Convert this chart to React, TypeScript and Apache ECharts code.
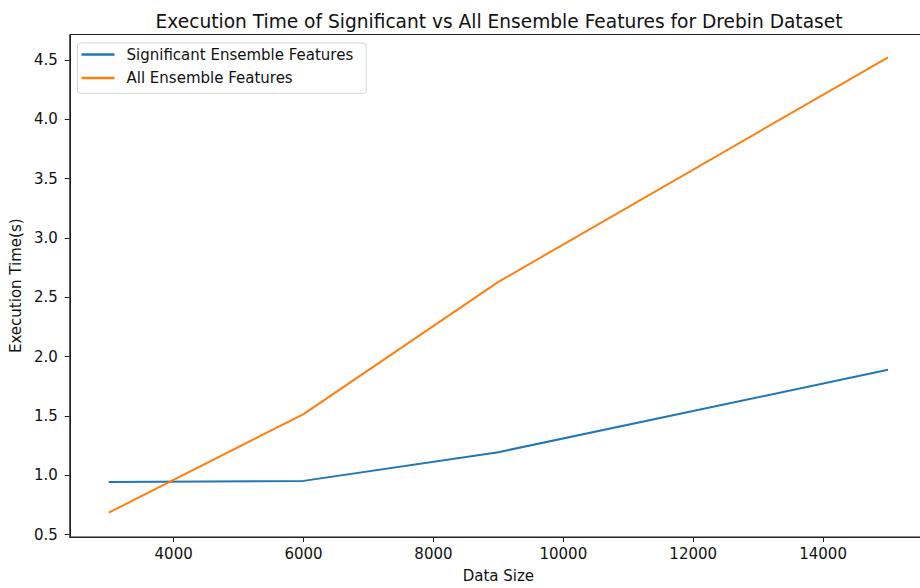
import React, { useEffect, useRef } from "react";
import * as echarts from "echarts";

const dataSizes = [3000, 6000, 9000, 15000];
const significantTimes = [0.943, 0.953, 1.195, 1.889];
const allTimes = [0.685, 1.515, 2.63, 4.523];
const xTicks = [4000, 6000, 8000, 10000, 12000, 14000];
const yTicks = [0.5, 1.0, 1.5, 2.0, 2.5, 3.0, 3.5, 4.0, 4.5];
const seriesNames = ["Significant Ensemble Features", "All Ensemble Features"];
const titleText = "Execution Time of Significant vs All Ensemble Features for Drebin Dataset";

const FONT = "DejaVu Sans";
const FS = 15;

export default function App() {
  const ref = useRef<HTMLDivElement>(null);
  useEffect(() => {
    if (!ref.current) return;
    const chart = echarts.init(ref.current, null, { renderer: "svg" });
    chart.setOption({
      animation: false,
      backgroundColor: "#fff",
      title: {
        text: titleText,
        left: 494,
        textAlign: "center",
        top: 7,
        textStyle: { fontFamily: FONT, fontSize: 18.6, fontWeight: "normal", color: "#111" },
      },
      legend: {
        orient: "vertical",
        left: 77.5,
        top: 43,
        padding: [4, 13, 8, 4],
        itemGap: 8.4,
        itemWidth: 33,
        itemHeight: 2.5,
        backgroundColor: "#fff",
        borderColor: "#d6d6d6",
        borderWidth: 1,
        borderRadius: 3,
        textStyle: { fontFamily: FONT, fontSize: FS, color: "#111", padding: [0, 0, 0, 7] },
        data: seriesNames.map((n) => ({ name: n, icon: "rect" })),
      },
      grid: {
        left: 69,
        top: 34.5,
        width: 858,
        height: 503,
        show: true,
        borderColor: "#222",
        borderWidth: 1,
        backgroundColor: "transparent",
        containLabel: false,
      },
      xAxis: {
        type: "value",
        min: 2400,
        max: 15600,
        name: "Data Size",
        nameLocation: "middle",
        nameGap: 31,
        nameTextStyle: { fontFamily: FONT, fontSize: FS, color: "#111" },
        axisLine: { show: true, lineStyle: { color: "#222", width: 1 } },
        axisTick: { show: true, length: 5, inside: false, customValues: xTicks, lineStyle: { color: "#222" } },
        axisLabel: {
          customValues: xTicks,
          margin: 9,
          fontFamily: FONT,
          fontSize: FS,
          color: "#111",
          formatter: (v: number) => String(v),
        },
        splitLine: { show: false },
      },
      yAxis: {
        type: "value",
        min: 0.48,
        max: 4.715,
        name: "Execution Time(s)",
        nameLocation: "middle",
        nameGap: 40,
        nameTextStyle: { fontFamily: FONT, fontSize: FS, color: "#111" },
        axisLine: { show: true, lineStyle: { color: "#222", width: 1 } },
        axisTick: { show: true, length: 5, customValues: yTicks, lineStyle: { color: "#222" } },
        axisLabel: {
          customValues: yTicks,
          margin: 12,
          fontFamily: FONT,
          fontSize: FS,
          color: "#111",
          formatter: (v: number) => v.toFixed(1),
        },
        splitLine: { show: false },
      },
      series: [
        {
          name: seriesNames[0],
          type: "line",
          data: dataSizes.map((x, i) => [x, significantTimes[i]]),
          showSymbol: false,
          symbol: "none",
          lineStyle: { color: "#1f77b4", width: 2 },
          itemStyle: { color: "#1f77b4" },
        },
        {
          name: seriesNames[1],
          type: "line",
          data: dataSizes.map((x, i) => [x, allTimes[i]]),
          showSymbol: false,
          symbol: "none",
          lineStyle: { color: "#ff7f0e", width: 2 },
          itemStyle: { color: "#ff7f0e" },
        },
      ],
    });
    return () => chart.dispose();
  }, []);
  return (
    <div style={{ width: 920, height: 588, position: "absolute", left: 0, top: 0, overflow: "hidden" }}>
      <div ref={ref} style={{ width: 940, height: 588 }} />
    </div>
  );
}
